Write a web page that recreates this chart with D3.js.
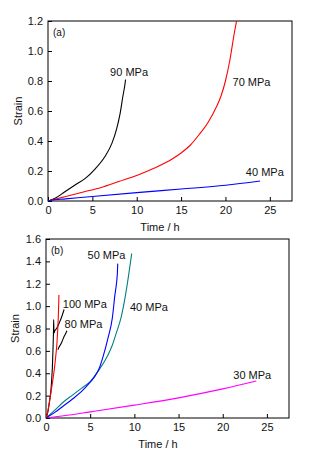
<!DOCTYPE html>
<html>
<head>
<meta charset="utf-8">
<script src="https://cdn.jsdelivr.net/npm/d3@7"></script>
<style>
  body { margin: 0; background: #fff; }
  svg { display: block; font-family: "Liberation Sans", Arial, sans-serif; }
</style>
</head>
<body>
<svg></svg>
<script>
const width = 322;
const height = 459;

// panel (a)
const a90T = [0, 0.8, 1.9, 3.05, 4.2, 5.3, 6.4, 7.2, 7.75, 8.13, 8.43, 8.69, 8.74];
const a90S = [0, 0.018, 0.062, 0.107, 0.151, 0.213, 0.295, 0.384, 0.484, 0.584, 0.695, 0.785, 0.81];
const a70T = [0, 1, 2, 4, 6, 8, 10, 12, 14, 15, 16, 17, 18, 19, 19.5, 20, 20.5, 21, 21.25];
const a70S = [0, 0.015, 0.03, 0.06, 0.09, 0.13, 0.17, 0.22, 0.28, 0.32, 0.37, 0.44, 0.52, 0.63, 0.70, 0.80, 0.94, 1.12, 1.2];
const a40T = [0, 0.3, 2, 5, 10, 15, 20, 23.9];
const a40S = [0, 0.005, 0.014, 0.03, 0.056, 0.08, 0.105, 0.133];

// panel (b)
const b30T = [0, 2, 5, 10, 15, 20, 23.8];
const b30S = [0, 0.02, 0.055, 0.115, 0.18, 0.26, 0.33];
const b50T = [0, 1, 2, 3, 4, 5, 5.5, 6, 6.5, 7, 7.5, 7.8, 8.0, 8.08, 8.12];
const b50S = [0, 0.05, 0.11, 0.17, 0.235, 0.32, 0.37, 0.44, 0.56, 0.71, 0.89, 1.10, 1.22, 1.30, 1.38];
const b40T = [0, 1, 2, 3, 4, 5, 6, 7, 7.5, 8, 8.5, 9, 9.3, 9.5, 9.7];
const b40S = [0, 0.07, 0.145, 0.205, 0.265, 0.325, 0.43, 0.56, 0.65, 0.77, 0.9, 1.1, 1.25, 1.36, 1.47];
const b100T = [0, 0.2, 0.42, 0.55, 0.64, 0.72, 0.79, 0.84, 0.87, 0.9, 1.0, 1.2, 1.5, 1.8, 2.05];
const b100S = [0, 0.05, 0.16, 0.24, 0.34, 0.45, 0.61, 0.75, 0.88, 0.76, 0.78, 0.8, 0.85, 0.91, 0.97];
const b80T = [0, 0.2, 0.42, 0.7, 0.98, 1.1, 1.24, 1.32, 1.39, 1.43, 1.45, 1.46];
const b80S = [0, 0.06, 0.16, 0.3, 0.46, 0.55, 0.67, 0.78, 0.9, 1.0, 1.05, 1.1];
const b80tailT = [1.35, 1.45, 1.6, 1.8, 2.0, 2.2, 2.37];
const b80tailS = [0.61, 0.63, 0.65, 0.68, 0.72, 0.75, 0.78];

const xTicks = [0, 5, 10, 15, 20, 25];
const yTicksA = [0, 0.2, 0.4, 0.6, 0.8, 1.0, 1.2];
const yTicksB = [0, 0.2, 0.4, 0.6, 0.8, 1.0, 1.2, 1.4, 1.6];

let svg = d3.select("svg")
    .attr("width", width)
    .attr("height", height);

function drawPanel(opt) {
    let scX = d3.scaleLinear().domain([0, 27.5]).range([opt.left, opt.right]);
    let scY = d3.scaleLinear().domain([0, opt.yMax]).range([opt.bottom, opt.top]);

    let clipId = "clip" + opt.id;
    svg.append("clipPath").attr("id", clipId)
        .append("rect")
        .attr("x", opt.left).attr("y", opt.top)
        .attr("width", opt.right - opt.left).attr("height", opt.bottom - opt.top);

    let axX = svg.append("g")
        .attr("transform", `translate(0, ${opt.bottom})`)
        .call(d3.axisBottom(scX).tickValues(xTicks).tickSizeInner(-4).tickSizeOuter(0).tickPadding(5));
    let axY = svg.append("g")
        .attr("transform", `translate(${opt.left}, 0)`)
        .call(d3.axisLeft(scY).tickValues(opt.yTicks).tickFormat(d3.format(".1f")).tickSizeInner(-4).tickSizeOuter(0).tickPadding(5));
    [axX, axY].forEach(ax => {
        ax.select(".domain").remove();
        ax.selectAll("text").style("font-size", "11px").attr("fill", "#111");
        ax.selectAll("line").attr("stroke", "#000");
    });

    svg.append("rect")
        .attr("x", opt.left).attr("y", opt.top)
        .attr("width", opt.right - opt.left).attr("height", opt.bottom - opt.top)
        .attr("fill", "none").attr("stroke", "#000").attr("stroke-width", 1);

    let line = d3.line().curve(d3.curveMonotoneX).x(d => scX(d[0])).y(d => scY(d[1]));
    opt.series.forEach(s => {
        svg.append("path")
            .datum(d3.zip(s.t, s.s))
            .attr("d", line)
            .attr("fill", "none")
            .attr("stroke", s.color)
            .attr("stroke-width", 1.1)
            .attr("clip-path", `url(#${clipId})`);
    });

    opt.labels.forEach(l => {
        svg.append("text")
            .attr("x", scX(l.t)).attr("y", scY(l.s))
            .attr("dy", "0.35em")
            .style("font-size", "11px")
            .attr("fill", "#111")
            .text(l.text);
    });

    svg.append("text")
        .attr("x", opt.left + 5).attr("y", opt.top + 11)
        .attr("dy", "0.35em")
        .style("font-size", "10px")
        .attr("fill", "#111")
        .text(opt.tag);

    svg.append("text")
        .attr("x", opt.xLabelX).attr("y", opt.bottom + 26)
        .attr("dy", "0.35em")
        .attr("text-anchor", "middle")
        .style("font-size", "11px")
        .attr("fill", "#111")
        .text("Time / h");

    svg.append("text")
        .attr("transform", `translate(${opt.yLabelX}, ${(opt.top + opt.bottom) / 2}) rotate(-90)`)
        .attr("dy", "0.35em")
        .attr("text-anchor", "middle")
        .style("font-size", "11px")
        .attr("fill", "#111")
        .text("Strain");
}

drawPanel({
    id: "a", tag: "(a)", left: 48, right: 292, top: 21, bottom: 201, yMax: 1.2,
    yTicks: yTicksA, xLabelX: 160, yLabelX: 18,
    series: [
        { t: a90T, s: a90S, color: "#000000" },
        { t: a70T, s: a70S, color: "#ff0000" },
        { t: a40T, s: a40S, color: "#0000ff" }
    ],
    labels: [
        { t: 7.0, s: 0.86, text: "90 MPa" },
        { t: 20.8, s: 0.79, text: "70 MPa" },
        { t: 22.3, s: 0.19, text: "40 MPa" }
    ]
});

drawPanel({
    id: "b", tag: "(b)", left: 46, right: 289, top: 239, bottom: 418, yMax: 1.6,
    yTicks: yTicksB, xLabelX: 158, yLabelX: 15,
    series: [
        { t: b30T, s: b30S, color: "#ff00ff" },
        { t: b40T, s: b40S, color: "#008080" },
        { t: b50T, s: b50S, color: "#0000ff" },
        { t: b100T, s: b100S, color: "#000000" },
        { t: b80tailT, s: b80tailS, color: "#000000" },
        { t: b80T, s: b80S, color: "#ff0000" }
    ],
    labels: [
        { t: 4.7, s: 1.46, text: "50 MPa" },
        { t: 9.5, s: 0.99, text: "40 MPa" },
        { t: 1.9, s: 1.02, text: "100 MPa" },
        { t: 2.1, s: 0.84, text: "80 MPa" },
        { t: 21.2, s: 0.38, text: "30 MPa" }
    ]
});
</script>
</body>
</html>
